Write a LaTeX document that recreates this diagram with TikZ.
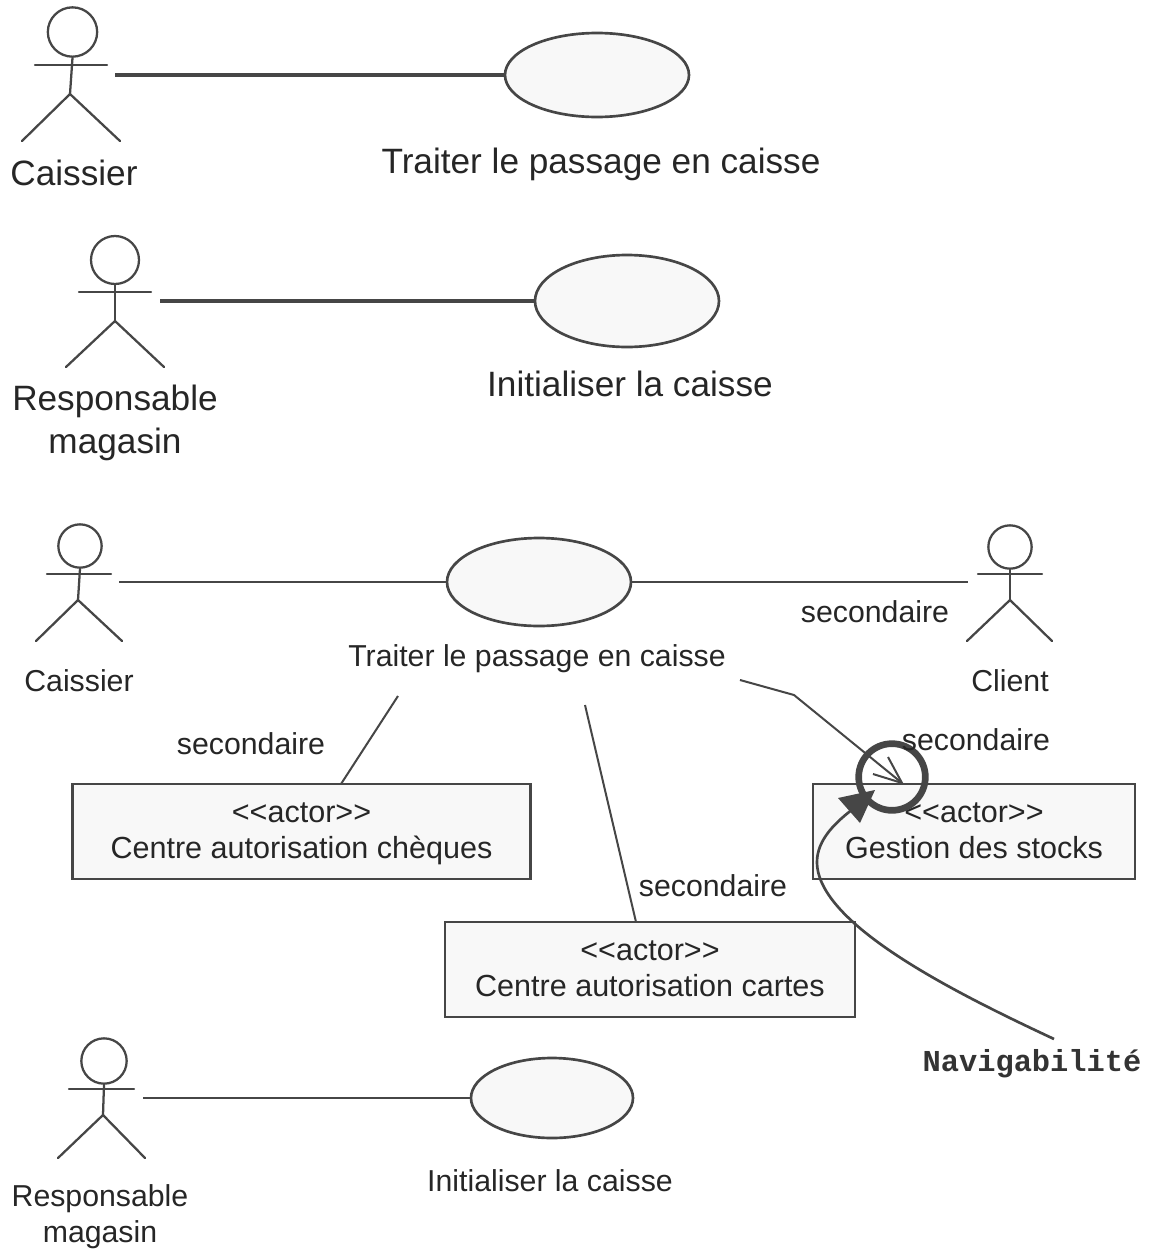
\documentclass[tikz,border=0pt]{standalone}
\usepackage{fontspec}
\setmainfont{Liberation Sans}
\setmonofont{Liberation Mono}
\usetikzlibrary{shapes.geometric}
\definecolor{trait}{RGB}{70,70,70}
\definecolor{fond}{RGB}{248,248,248}
\tikzset{
  usecase/.style={draw=trait,fill=fond,ellipse,line width=2pt,inner sep=0pt},
  head/.style={draw=trait,circle,line width=1.7pt,inner sep=0pt},
  stick/.style={draw=trait,line width=1.7pt,line cap=round},
  assoc/.style={draw=trait,line width=2.2pt},
  thickassoc/.style={draw=trait,line width=2.8pt},
  thinassoc/.style={draw=trait,line width=1.5pt},
  acteurbox/.style={draw=trait,fill=fond,line width=2.2pt,inner sep=0pt,minimum height=71.25pt,align=center,text=black!85,font=\fontsize{22.9}{27}\selectfont},
  bigtext/.style={inner sep=0pt,align=center,text=black!85,font=\fontsize{26.4}{32}\selectfont},
  smalltext/.style={inner sep=0pt,align=center,text=black!85,font=\fontsize{22.7}{27}\selectfont}
}
\begin{document}
\begin{tikzpicture}[x=0.75pt,y=0.75pt,yscale=-1,xscale=1]
\useasboundingbox (0,0) rectangle (1150,1250);

%Caissier, top
\node [head,minimum size=37pt] (headA) at (72.5,32) {};
\draw [stick] (headA.south) -- (70,94) ;
\draw [stick] (35,65) -- (107,65) ;
\draw [stick] (22,141) -- (70,94) -- (120,141) ;
\coordinate (handA) at (115,75) ;
\node [usecase,minimum width=138pt,minimum height=63pt] (caseA) at (597,75) {};
\draw [thickassoc] (handA) -- (caseA) ;

%Responsable, top
\node [head,minimum size=36pt] (headB) at (115,260) {};
\draw [stick] (headB.south) -- (115,321) ;
\draw [stick] (79,292) -- (151,292) ;
\draw [stick] (66,367) -- (115,321) -- (164,367) ;
\coordinate (handB) at (160,301) ;
\node [usecase,minimum width=138pt,minimum height=69pt] (caseB) at (627,301) {};
\draw [thickassoc] (handB) -- (caseB) ;

%Caissier and Client, middle
\node [head,minimum size=32.5pt] (headC) at (80,546) {};
\draw [stick] (headC.south) -- (78,600) ;
\draw [stick] (47,574) -- (111,574) ;
\draw [stick] (36,641) -- (78,600) -- (122,641) ;
\node [head,minimum size=32.5pt] (headD) at (1010,547) {};
\draw [stick] (headD.south) -- (1010,600) ;
\draw [stick] (978,574) -- (1042,574) ;
\draw [stick] (967,641) -- (1010,600) -- (1052,641) ;
\coordinate (handC) at (119,582) ;
\coordinate (handD) at (968,582) ;
\node [usecase,minimum width=138pt,minimum height=66pt] (caseC) at (539,582) {};
\draw [assoc] (handC) -- (caseC) ;
\draw [assoc] (caseC) -- (handD) ;

%Responsable, bottom
\node [head,minimum size=34pt] (headE) at (104,1061) {};
\draw [stick] (headE.south) -- (103,1115) ;
\draw [stick] (69,1089) -- (134,1089) ;
\draw [stick] (58,1158) -- (103,1115) -- (145,1158) ;
\coordinate (handE) at (143,1098) ;
\node [usecase,minimum width=121.5pt,minimum height=60pt] (caseE) at (552,1098) {};
\draw [assoc] (handE) -- (caseE) ;

%Boxes
\node [acteurbox,minimum width=344pt] (boxCheques) at (301.5,831.5) {\rule{0pt}{22pt}<{}<actor>{}>\\Centre autorisation chèques\strut};
\node [acteurbox,minimum width=241.5pt] (boxStocks) at (974,831.5) {\rule{0pt}{22pt}<{}<actor>{}>\\Gestion des stocks\strut};
\node [acteurbox,minimum width=307.5pt] (boxCartes) at (650,969.5) {\rule{0pt}{22pt}<{}<actor>{}>\\Centre autorisation cartes\strut};

%Secondary links
\coordinate (fromCheques) at (398,696) ;
\coordinate (toCheques) at (341,784) ;
\coordinate (fromCartes) at (585,705) ;
\coordinate (toCartes) at (636,922) ;
\coordinate (fromStocks) at (740,680) ;
\coordinate (bendStocks) at (794,695) ;
\coordinate (tipStocks) at (902,783) ;
\draw [thinassoc] (fromCheques) -- (toCheques) ;
\draw [thinassoc] (fromCartes) -- (toCartes) ;
\draw [thinassoc] (fromStocks) -- (bendStocks) -- (tipStocks) ;
\draw [thinassoc] (888,757) -- (tipStocks) -- (873,774) ;

%Navigability mark
\node [draw=trait,circle,line width=5pt,minimum size=50pt,inner sep=0pt] (markCircle) at (892,777) {};
\coordinate (noteStart) at (1054,1039) ;
\coordinate (noteEnd) at (857,806) ;
\draw [draw=trait,line width=2pt] (noteStart) .. controls (960,995) and (817,925) .. (817,862) .. controls (817,840) and (835,822) .. (noteEnd) ;
\fill [trait] (838,798) -- (875,790) -- (860,823) -- cycle ;

% Text Node
\node [bigtext] (labelA) at (74,173) {Caissier};
\node [bigtext] (labelCaseA) at (601,164) {Traiter le passage en caisse};
\node [bigtext] (labelB) at (115,423) {Responsable\\magasin};
\node [bigtext] (labelCaseB) at (630,384) {Initialiser la caisse};
\node [smalltext] (labelC) at (79,681) {Caissier};
\node [smalltext] (labelCaseC) at (537,659) {Traiter le passage en caisse};
\node [smalltext] (labelD) at (1010,681) {Client};
\node [smalltext] (secClient) at (875,612) {secondaire};
\node [smalltext] (secCheques) at (251,744) {secondaire};
\node [smalltext] (secCartes) at (713,886) {secondaire};
\node [smalltext] (secStocks) at (976,740) {secondaire};
\node [smalltext] (labelE) at (100,1217) {Responsable\\magasin};
\node [smalltext] (labelCaseE) at (550,1181) {Initialiser la caisse};
\node [inner sep=0pt,text=black!80,font=\ttfamily\bfseries\fontsize{22.8}{27}\selectfont] (labelNote) at (1032,1064) {Navigabilité};
\end{tikzpicture}
\end{document}
